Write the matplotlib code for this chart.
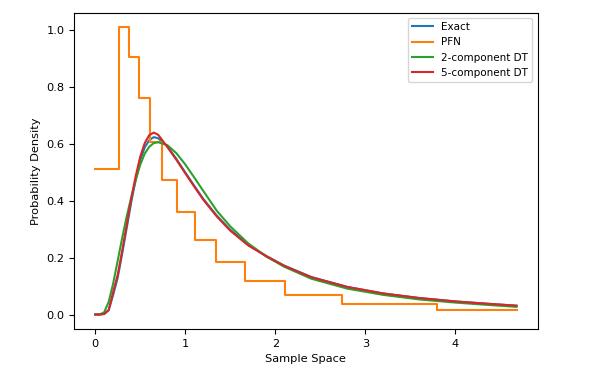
import matplotlib
matplotlib.use('Agg')
import matplotlib.pyplot as plt

# curve samples
x_curve = [0.0, 0.05, 0.1, 0.15, 0.2, 0.25, 0.3, 0.35, 0.4, 0.45, 0.5, 0.55, 0.6, 0.65, 0.7,
           0.8, 0.9, 1.0, 1.1, 1.2, 1.35, 1.5, 1.7, 1.9, 2.1, 2.4, 2.8, 3.2, 3.6, 4.0, 4.35, 4.68]
exact = [0.0, 0.0, 0.002, 0.015, 0.07, 0.13, 0.215, 0.305, 0.395, 0.475, 0.543, 0.588, 0.613,
         0.624, 0.62, 0.592, 0.548, 0.5, 0.453, 0.407, 0.348, 0.298, 0.245, 0.206, 0.172,
         0.132, 0.097, 0.074, 0.058, 0.046, 0.038, 0.031]
dt2 = [0.0, 0.0, 0.008, 0.045, 0.11, 0.19, 0.27, 0.345, 0.412, 0.473, 0.527, 0.566, 0.59,
       0.603, 0.606, 0.596, 0.568, 0.528, 0.482, 0.435, 0.365, 0.31, 0.25, 0.204, 0.168,
       0.126, 0.091, 0.069, 0.053, 0.042, 0.034, 0.027]
dt5 = [0.0, 0.0, 0.002, 0.016, 0.08, 0.14, 0.225, 0.315, 0.408, 0.487, 0.555, 0.603, 0.631,
       0.64, 0.632, 0.59, 0.545, 0.497, 0.45, 0.404, 0.345, 0.295, 0.243, 0.205, 0.171,
       0.131, 0.097, 0.074, 0.058, 0.046, 0.038, 0.031]

# PFN histogram: bin edges and densities
pfn_edges = [0.0, 0.266, 0.376, 0.487, 0.609, 0.745, 0.911, 1.107, 1.347, 1.665, 2.107,
             2.743, 3.80, 4.68]
pfn_vals = [0.512, 1.011, 0.905, 0.762, 0.606, 0.474, 0.360, 0.262, 0.184, 0.118, 0.070,
            0.036, 0.0175]

plt.rcParams['font.size'] = 8.2

fig = plt.figure(figsize=(5.98, 3.75), dpi=100)
ax = fig.add_subplot(111)
fig.subplots_adjust(left=0.124, right=0.899, bottom=0.123, top=0.966)

ax.plot(x_curve, exact, label='Exact')
ax.plot(pfn_edges, pfn_vals + [pfn_vals[-1]], drawstyle='steps-post', label='PFN')
ax.plot(x_curve, dt2, label='2-component DT')
ax.plot(x_curve, dt5, label='5-component DT')

ax.set_xlabel('Sample Space')
ax.set_ylabel('Probability Density')
ax.legend(loc='upper right', fontsize=7.5)

fig.savefig('out.png', dpi=100)
